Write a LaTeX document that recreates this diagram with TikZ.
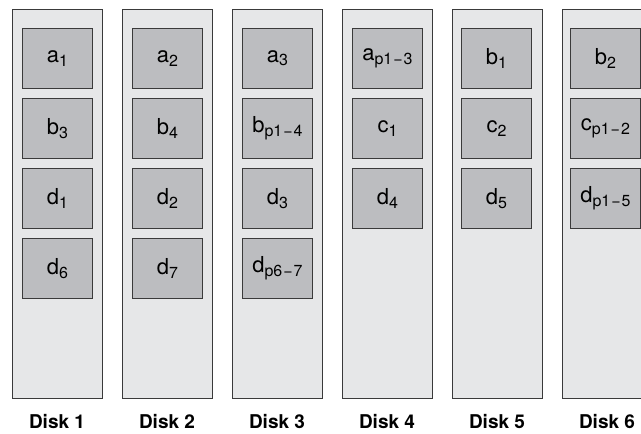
\documentclass[tikz,border=0pt]{standalone}
\usepackage{fontspec}
\setmainfont{TeX Gyre Heros}
\definecolor{diskfill}{HTML}{E6E7E8}
\definecolor{blkfill}{HTML}{BCBDC0}
\definecolor{edge}{HTML}{3A3A3A}
\newcommand{\blk}[2]{#1\raisebox{-0.3ex}{\fontsize{16pt}{16pt}\selectfont #2}}
\tikzset{
  disk/.style={draw=edge, fill=diskfill, line width=0.9pt, minimum width=90pt, minimum height=389pt, inner sep=0pt, anchor=north west},
  blk/.style={draw=edge, fill=blkfill, line width=0.9pt, minimum width=70pt, minimum height=60pt, inner sep=0pt, anchor=north west, font=\fontsize{22pt}{22pt}\selectfont},
  lbl/.style={font=\bfseries\fontsize{19pt}{19pt}\selectfont, inner sep=0pt}
}
\begin{document}
\begin{tikzpicture}[x=1pt,y=-1pt]
\useasboundingbox (0,0) rectangle (641,434);
\clip (0,0) rectangle (641,434);
% disks
\foreach \i in {1,...,6}{
  \node[disk] (disk\i) at ({12+110*(\i-1)},9) {};
  \node[lbl] (lab\i) at ({57+110*(\i-1)},422) {Disk \i};
}
% disk 1
\node[blk] (a1) at (22,28) {\blk{a}{1}};
\node[blk] (b3) at (22,98) {\blk{b}{3}};
\node[blk] (d1) at (22,168) {\blk{d}{1}};
\node[blk] (d6) at (22,238) {\blk{d}{6}};
% disk 2
\node[blk] (a2) at (132,28) {\blk{a}{2}};
\node[blk] (b4) at (132,98) {\blk{b}{4}};
\node[blk] (d2) at (132,168) {\blk{d}{2}};
\node[blk] (d7) at (132,238) {\blk{d}{7}};
% disk 3
\node[blk] (a3) at (242,28) {\blk{a}{3}};
\node[blk] (bp14) at (242,98) {\blk{b}{p1\kern1pt−\kern1pt4}};
\node[blk] (d3) at (242,168) {\blk{d}{3}};
\node[blk] (dp67) at (242,238) {\blk{d}{p6\kern1pt−\kern1pt7}};
% disk 4
\node[blk] (ap13) at (352,28) {\blk{a}{p1\kern1pt−\kern1pt3}};
\node[blk] (c1) at (352,98) {\blk{c}{1}};
\node[blk] (d4) at (352,168) {\blk{d}{4}};
% disk 5
\node[blk] (b1) at (461,28) {\blk{b}{1}};
\node[blk] (c2) at (461,98) {\blk{c}{2}};
\node[blk] (d5) at (461,168) {\blk{d}{5}};
% disk 6
\node[blk] (b2) at (570,28) {\blk{b}{2}};
\node[blk] (cp12) at (570,98) {\blk{c}{p1\kern1pt−\kern1pt2}};
\node[blk] (dp15) at (570,168) {\blk{d}{p1\kern1pt−\kern1pt5}};
\end{tikzpicture}
\end{document}
